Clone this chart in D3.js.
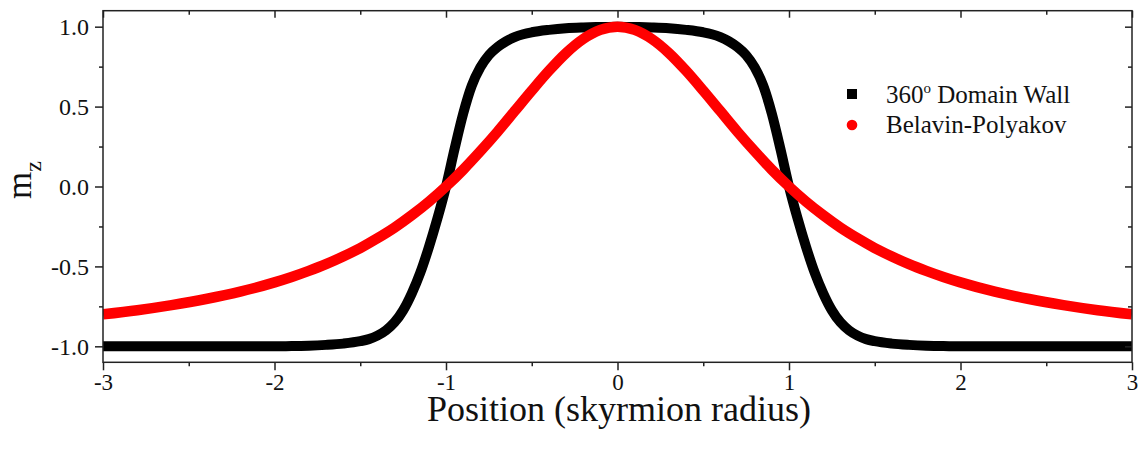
<!DOCTYPE html>
<html>
<head>
<meta charset="utf-8">
<script src="https://cdn.jsdelivr.net/npm/d3@7"></script>
<style>
  html, body { margin: 0; padding: 0; background: #fff; }
  svg { display: block; }
  svg text { font-family: "Liberation Serif", "Times New Roman", serif !important; fill: #111; }
</style>
</head>
<body>
<svg id="chart" width="1141" height="455"></svg>
<script>
// ---- data ----
const dwX = [-3, -2.5, -2, -1.9, -1.8, -1.7, -1.6, -1.5, -1.45, -1.4, -1.35, -1.3, -1.25, -1.2, -1.15, -1.1, -1.05, -1,
  -0.95, -0.9, -0.85, -0.8, -0.75, -0.7, -0.65, -0.6, -0.55, -0.5, -0.4, -0.3, -0.2, -0.1, 0,
  0.1, 0.2, 0.3, 0.4, 0.5, 0.55, 0.6, 0.65, 0.7, 0.75, 0.8, 0.85, 0.9, 0.95,
  1, 1.05, 1.1, 1.15, 1.2, 1.25, 1.3, 1.35, 1.4, 1.45, 1.5, 1.6, 1.7, 1.8, 1.9, 2, 2.5, 3];
const dwMz = [-1, -1, -1, -0.998, -0.996, -0.991, -0.983, -0.968, -0.955, -0.933, -0.9, -0.85, -0.775, -0.67, -0.54, -0.38, -0.2, 0,
  0.235, 0.455, 0.63, 0.745, 0.822, 0.872, 0.908, 0.935, 0.953, 0.965, 0.98, 0.99, 0.995, 0.998, 1,
  0.998, 0.995, 0.99, 0.98, 0.965, 0.953, 0.935, 0.908, 0.872, 0.822, 0.745, 0.63, 0.455, 0.235,
  0, -0.2, -0.38, -0.54, -0.67, -0.775, -0.85, -0.9, -0.933, -0.955, -0.968, -0.983, -0.991, -0.996, -0.998, -1, -1, -1];

const bpX = [-3, -2.8, -2.6, -2.4, -2.2, -2, -1.9, -1.8, -1.7, -1.6, -1.5, -1.4, -1.3, -1.2, -1.1, -1,
  -0.9, -0.8, -0.7, -0.6, -0.5, -0.4, -0.3, -0.2, -0.1, 0,
  0.1, 0.2, 0.3, 0.4, 0.5, 0.6, 0.7, 0.8, 0.9,
  1, 1.1, 1.2, 1.3, 1.4, 1.5, 1.6, 1.7, 1.8, 1.9, 2, 2.2, 2.4, 2.6, 2.8, 3];
const bpMz = [-0.8, -0.774, -0.742, -0.704, -0.658, -0.6, -0.566, -0.528, -0.486, -0.438, -0.385, -0.324, -0.257, -0.18, -0.095, 0,
  0.105, 0.22, 0.342, 0.471, 0.6, 0.724, 0.835, 0.923, 0.98, 1,
  0.98, 0.923, 0.835, 0.724, 0.6, 0.471, 0.342, 0.22, 0.105,
  0, -0.095, -0.18, -0.257, -0.324, -0.385, -0.438, -0.486, -0.528, -0.566, -0.6, -0.658, -0.704, -0.742, -0.774, -0.8];

const xMajorTicks = [-3, -2, -1, 0, 1, 2, 3];
const xTickLabels = ["-3", "-2", "-1", "0", "1", "2", "3"];
const xMinorTicks = [-2.5, -1.5, -0.5, 0.5, 1.5, 2.5];
const yMajorTicks = [-1, -0.5, 0, 0.5, 1];
const yMinorTicks = [-0.75, -0.25, 0.25, 0.75];
const yTickLabels = ["-1.0", "-0.5", "0.0", "0.5", "1.0"];

const seriesNames = ["360", "Domain Wall", "Belavin-Polyakov"];
const xTitle = "Position (skyrmion radius)";

// ---- layout ----
const L = 103, R = 1132, T = 10.7, B = 362.3;
const svg = d3.select("#chart");
const x = d3.scaleLinear().domain([-3, 3]).range([L, R]);
const y = d3.scaleLinear().domain([-1.1, 1.1]).range([B, T]);

svg.append("defs").append("clipPath").attr("id", "plotclip")
  .append("rect").attr("x", L).attr("y", T).attr("width", R - L).attr("height", B - T);

const frameColor = "#222";

// ---- data lines ----
const line = d3.line().x(d => x(d[0])).y(d => y(d[1])).curve(d3.curveMonotoneX);
const g = svg.append("g").attr("clip-path", "url(#plotclip)");
g.append("path").datum(d3.zip(dwX, dwMz)).attr("d", line)
  .attr("fill", "none").attr("stroke", "#000").attr("stroke-width", 10)
  .attr("stroke-linejoin", "round");
g.append("path").datum(d3.zip(bpX, bpMz)).attr("d", line)
  .attr("fill", "none").attr("stroke", "#ff0000").attr("stroke-width", 10.5)
  .attr("stroke-linejoin", "round");

// ---- axes ----
function styleAxis(sel) {
  sel.attr("font-family", null).attr("font-size", null);
  sel.select(".domain").remove();
  sel.selectAll(".tick line").attr("stroke", frameColor).attr("stroke-width", 1.5);
}
// left (outward)
svg.append("g").attr("transform", `translate(${L},0)`)
  .call(d3.axisLeft(y).tickValues(yMajorTicks).tickSize(8).tickPadding(6)
    .tickFormat((d, i) => yTickLabels[i]))
  .call(styleAxis)
  .call(s => s.selectAll("text").style("font-size", "24px").attr("dy", "0.34em"));
svg.append("g").attr("transform", `translate(${L},0)`)
  .call(d3.axisLeft(y).tickValues(yMinorTicks).tickSize(4).tickFormat(""))
  .call(styleAxis);
// right (inward)
svg.append("g").attr("transform", `translate(${R},0)`)
  .call(d3.axisLeft(y).tickValues(yMajorTicks).tickSize(7).tickFormat(""))
  .call(styleAxis);
svg.append("g").attr("transform", `translate(${R},0)`)
  .call(d3.axisLeft(y).tickValues(yMinorTicks).tickSize(4).tickFormat(""))
  .call(styleAxis);
// bottom (outward)
svg.append("g").attr("transform", `translate(0,${B})`)
  .call(d3.axisBottom(x).tickValues(xMajorTicks).tickSize(8).tickPadding(3)
    .tickFormat((d, i) => xTickLabels[i]))
  .call(styleAxis)
  .call(s => s.selectAll("text").style("font-size", "23px"));
svg.append("g").attr("transform", `translate(0,${B})`)
  .call(d3.axisBottom(x).tickValues(xMinorTicks).tickSize(4).tickFormat(""))
  .call(styleAxis);
// top (inward)
svg.append("g").attr("transform", `translate(0,${T})`)
  .call(d3.axisBottom(x).tickValues(xMajorTicks).tickSize(7).tickFormat(""))
  .call(styleAxis);
svg.append("g").attr("transform", `translate(0,${T})`)
  .call(d3.axisBottom(x).tickValues(xMinorTicks).tickSize(4).tickFormat(""))
  .call(styleAxis);

// frame
svg.append("rect").attr("x", L).attr("y", T).attr("width", R - L).attr("height", B - T)
  .attr("fill", "none").attr("stroke", frameColor).attr("stroke-width", 1.5);

// ---- titles ----
svg.append("text").attr("x", 619).attr("y", 421)
  .attr("text-anchor", "middle").style("font-size", "36px").text(xTitle);

const yt = svg.append("text").attr("transform", "translate(31,180) rotate(-90)")
  .attr("text-anchor", "middle").style("font-size", "35px");
yt.append("tspan").text("m");
yt.append("tspan").style("font-size", "24px").attr("dy", 10).text("z");

// ---- legend ----
const lg = svg.append("g");
lg.append("rect").attr("x", 847).attr("y", 89).attr("width", 10).attr("height", 10).attr("fill", "#000");
lg.append("circle").attr("cx", 852).attr("cy", 125).attr("r", 5.3).attr("fill", "#ff0000");
const t1 = lg.append("text").attr("x", 886).attr("y", 103).style("font-size", "25px");
t1.append("tspan").text(seriesNames[0]);
t1.append("tspan").style("font-size", "15px").attr("dy", -10).text("o");
t1.append("tspan").attr("dy", 10).text(" " + seriesNames[1]);
lg.append("text").attr("x", 886).attr("y", 133).style("font-size", "25px").text(seriesNames[2]);
</script>
</body>
</html>
